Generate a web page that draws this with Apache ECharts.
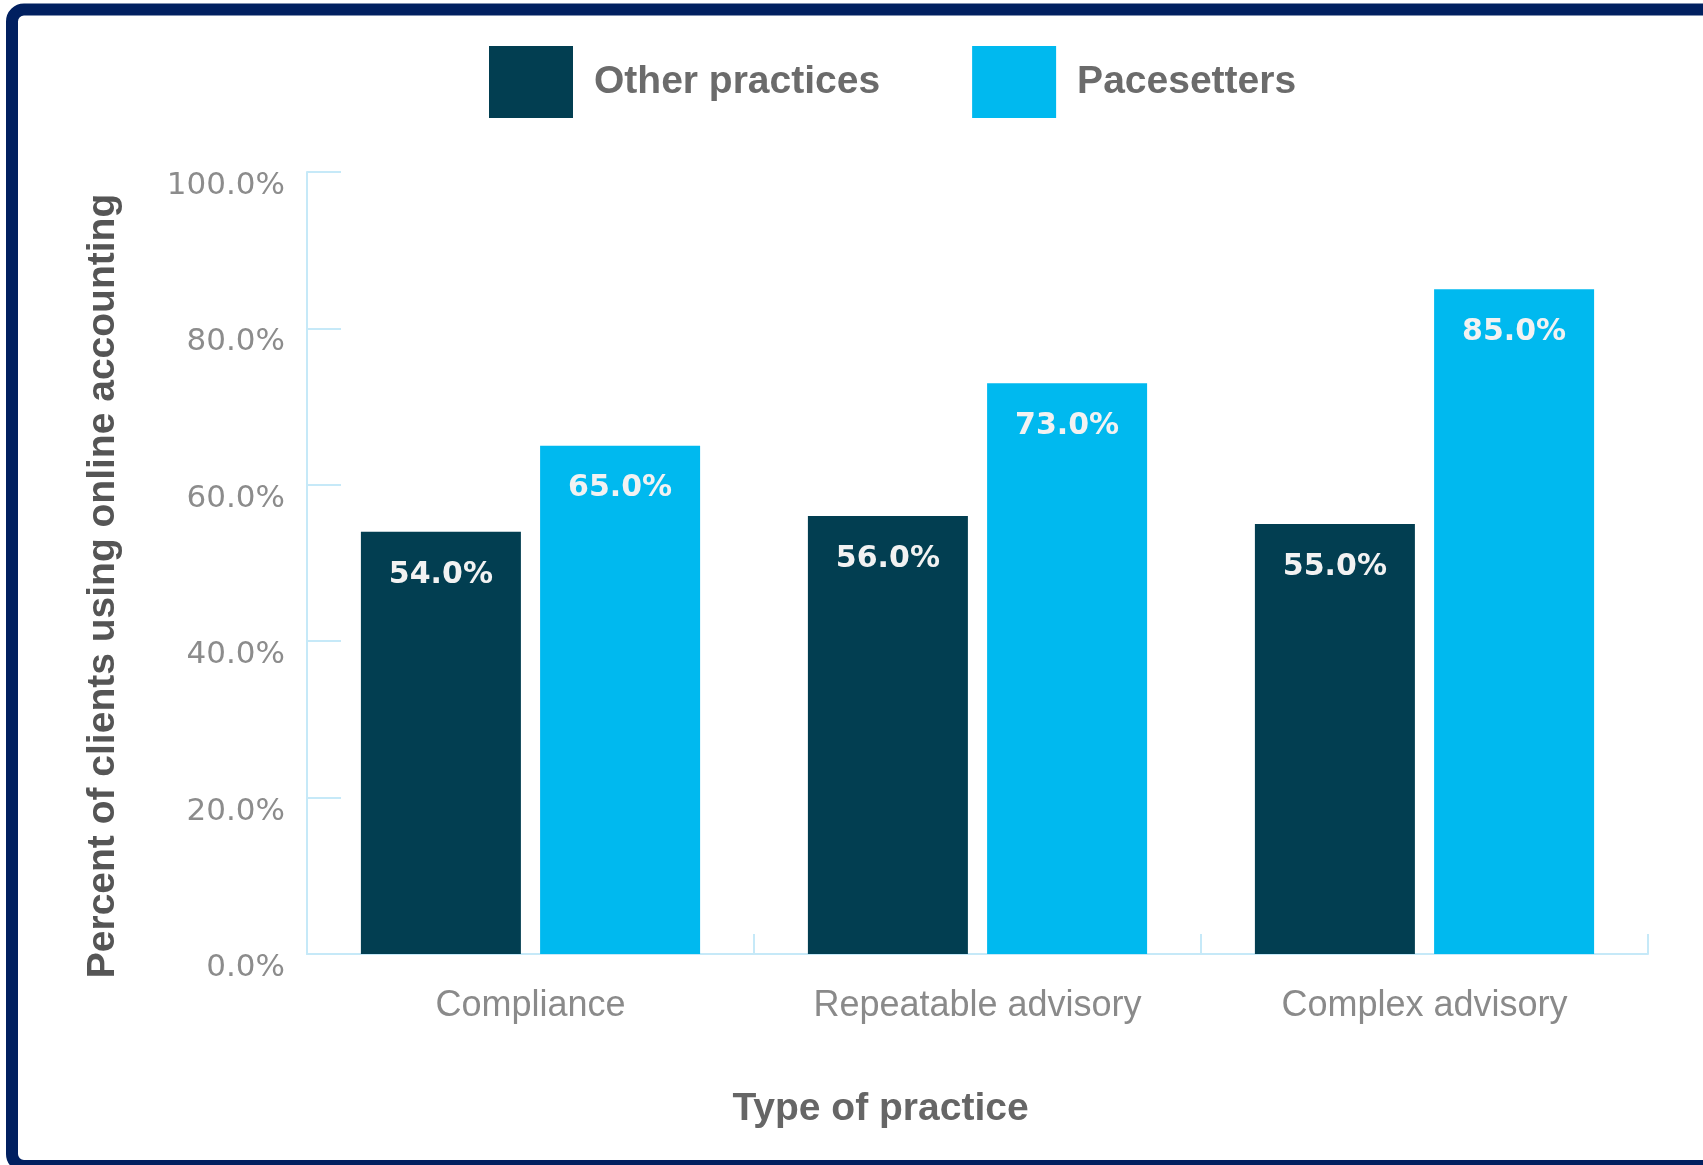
<!DOCTYPE html>
<html>
<head>
<meta charset="utf-8">
<script src="https://cdn.jsdelivr.net/npm/echarts@6/dist/echarts.min.js"></script>
<style>
  html, body { margin: 0; padding: 0; background: #ffffff; }
  #chart { width: 1703px; height: 1165px; }
</style>
</head>
<body>
<div id="chart"></div>
<script>
const categories = ['Compliance', 'Repeatable advisory', 'Complex advisory'];
const seriesNames = ['Other practices', 'Pacesetters'];
const otherPractices = [54, 56, 55];
const pacesetters = [65, 73, 85];
const yAxisTitle = 'Percent of clients using online accounting';
const xAxisTitle = 'Type of practice';

const axisBlue = '#c6e9f8';
const darkTeal = '#023e51';
const brightBlue = '#00b9ef';

const chart = echarts.init(document.getElementById('chart'), null, { renderer: 'canvas' });

const barLabel = {
  show: true,
  position: 'insideTop',
  distance: 28,
  color: '#f2f2f2',
  fontFamily: 'DejaVu Sans',
  fontWeight: 'bold',
  fontSize: 30,
  formatter: p => p.value.toFixed(1) + '%'
};

chart.setOption({
  backgroundColor: '#ffffff',
  animation: false,
  graphic: [{
    type: 'rect',
    shape: { x: 12, y: 9.5, width: 1800, height: 1156.5, r: 12 },
    style: { fill: 'none', stroke: '#012060', lineWidth: 12 },
    z: 100
  }],
  legend: {
    left: 489,
    top: 46,
    padding: 0,
    itemWidth: 84,
    itemHeight: 72,
    itemGap: 92,
    icon: 'rect',
    data: seriesNames,
    textStyle: {
      fontFamily: 'Liberation Sans',
      fontWeight: 'bold',
      fontSize: 39,
      color: '#6b6b6b',
      padding: [6, 0, 0, 16]
    }
  },
  grid: { left: 307, right: 55, top: 172, bottom: 211, containLabel: false },
  xAxis: {
    type: 'category',
    data: categories,
    boundaryGap: true,
    name: xAxisTitle,
    nameLocation: 'middle',
    nameGap: 136,
    nameTextStyle: {
      fontFamily: 'Liberation Sans',
      fontWeight: 'bold',
      fontSize: 39,
      color: '#666666',
      padding: [0, 194, 0, 0]
    },
    axisLine: { show: true, lineStyle: { color: axisBlue, width: 2 } },
    axisTick: { show: true, inside: true, length: 20, alignWithLabel: false, lineStyle: { color: axisBlue, width: 2 } },
    axisLabel: {
      margin: 34,
      fontFamily: 'Liberation Sans',
      fontSize: 36,
      color: '#8a8a8a'
    },
    splitLine: { show: false }
  },
  yAxis: {
    type: 'value',
    min: 0,
    max: 100,
    interval: 20,
    name: yAxisTitle,
    nameLocation: 'middle',
    nameGap: 184,
    nameRotate: 90,
    nameTextStyle: {
      fontFamily: 'Liberation Sans',
      fontWeight: 'bold',
      fontSize: 39,
      color: '#555555',
      padding: [0, 46, 0, 0]
    },
    axisLine: { show: true, lineStyle: { color: axisBlue, width: 2 } },
    axisTick: { show: true, inside: true, length: 34, lineStyle: { color: axisBlue, width: 2 } },
    axisLabel: {
      margin: 22,
      fontFamily: 'DejaVu Sans',
      fontSize: 31,
      color: '#8c8c8c',
      verticalAlign: 'top',
      lineHeight: 28,
      formatter: v => v.toFixed(1) + '%'
    },
    splitLine: { show: false }
  },
  series: [
    {
      name: seriesNames[0],
      type: 'bar',
      data: otherPractices,
      barWidth: 160,
      barGap: '12%',
      itemStyle: { color: darkTeal },
      label: barLabel
    },
    {
      name: seriesNames[1],
      type: 'bar',
      data: pacesetters,
      barWidth: 160,
      barGap: '12%',
      itemStyle: { color: brightBlue },
      label: barLabel
    }
  ]
});
</script>
</body>
</html>
